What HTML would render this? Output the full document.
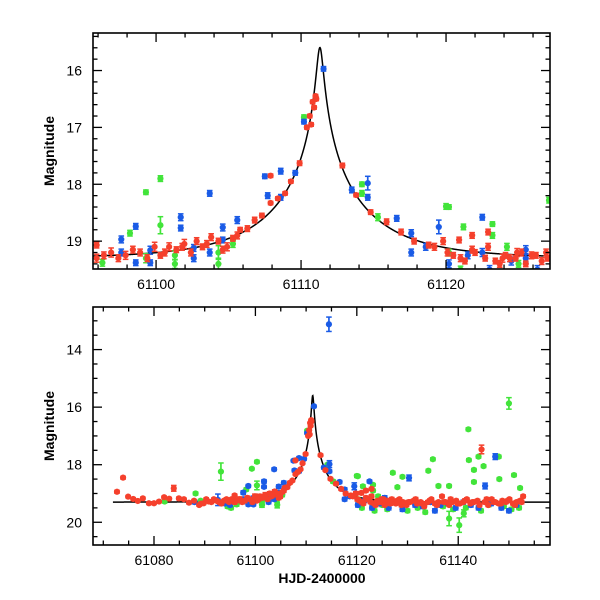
<!DOCTYPE html>
<html><head><meta charset="utf-8"><style>
html,body{margin:0;padding:0;background:#fff;}
svg{display:block;font-family:"Liberation Sans",sans-serif;}
</style></head><body>
<svg id="chart" width="600" height="600" viewBox="0 0 600 600" xmlns="http://www.w3.org/2000/svg">
<defs>
<clipPath id="clipTop"><rect x="93" y="33" width="457" height="236"/></clipPath>
<clipPath id="clipBot"><rect x="93" y="307" width="457" height="238"/></clipPath>
</defs>
<g id="top"></g>
<g id="bot"></g>
<text x="0" y="0" transform="translate(54,151) rotate(-90)" text-anchor="middle" font-size="14" font-weight="bold">Magnitude</text>
<text x="0" y="0" transform="translate(54,426) rotate(-90)" text-anchor="middle" font-size="14" font-weight="bold">Magnitude</text>
<text x="322" y="583" text-anchor="middle" font-size="14" font-weight="bold">HJD-2400000</text>
</svg>
<script>
// ---- data ----
const redT = [61072.7,61073.9,61074.9,61075.9,61076.8,61077.8,61079.0,61080.0,61081.0,61082.0,61083.0,61083.9,61084.9,61085.9,61086.9,61087.9,61088.9,61089.8,61090.8,61091.8,61092.8,61093.8,61094.8,61095.3,
61095.9,61095.9,61096.9,61097.9,61098.9,61099.9,61100.3,61100.9,61101.4,61101.95,61102.8,61103.2,61103.8,61104.3,61104.9,61105.3,61105.8,61106.3,61106.8,61107.3,61107.9,61107.9,61108.4,61108.9,61109.3,61109.9,
61110.4,61110.6,61110.7,61110.8,61110.9,61111.0,61111.05,
61112.85,61113.8,61114.8,61115.9,61116.9,61117.8,61118.8,61119.8,61120.9,61121.8,61121.8,61122.9,61122.9,61123.9,61124.9,61125.9,61126.9,
61120.5,61121.3,61122.0,61122.7,61123.4,61124.1,61124.8,61125.5,61126.2,61127.0,61127.7,61128.4,61129.1,61129.8,61130.5,61131.2,61131.9,61132.6,61133.3,61134.0,61134.7,61135.4,61136.1,61136.8,61137.5,61138.2,61138.9,61139.6,61140.3,61141.0,61141.7,61142.4,61143.1,61143.8,61144.6,61145.2,61145.9,61146.6,61147.3,61148.0,61148.7,61149.4,61150.1,61150.8,61151.5,61152.2,61152.8,
61089.3,61090.3,61091.3,61092.3,61093.3,61094.3,61096.4,61097.4,61098.4,61099.4,61100.6,61101.8,61102.4,61103.5,61104.6,61105.6,
61119.2,61120.1,61121.0,61123.7,61124.4,61125.2,61126.6,61128.0,61128.8,61130.2,61131.6,61132.9,61134.4,61135.8,61137.2,61138.5,61139.9,61141.3,61142.8,61144.2,61145.6,61147.0,61148.4,61149.8,61151.2,61152.5];
const redM = [18.94,18.45,19.11,19.19,19.26,19.17,19.34,19.34,19.28,19.13,19.18,18.82,19.17,19.2,19.32,19.25,19.4,19.34,19.28,19.2,19.3,19.25,19.3,19.2,
19.07,19.30,19.2,19.25,19.2,19.1,19.25,19.1,19.15,19.05,19.0,19.1,18.93,19.0,19.1,18.95,18.8,18.78,18.63,18.55,17.85,18.33,18.25,18.16,17.95,17.63,
17.0,16.8,16.95,16.55,16.65,16.45,16.5,
17.67,18.19,18.49,18.66,18.84,19.0,19.07,19.0,18.98,18.9,19.15,18.84,19.1,19.3,19.2,19.25,19.2,
19.25,19.35,19.2,19.3,19.35,19.25,19.3,19.4,19.25,19.3,19.35,19.2,19.3,19.4,19.3,19.25,19.35,19.3,19.45,19.3,19.2,19.35,19.3,19.1,19.3,19.4,19.3,19.25,19.35,19.3,19.2,19.35,19.3,19.25,17.47,19.3,19.4,19.2,19.3,19.35,19.25,19.3,19.2,19.35,19.3,19.25,19.1,
19.35,19.2,19.3,19.25,19.35,19.2,19.25,19.3,19.15,19.3,19.2,19.1,19.2,19.05,19.15,18.9,
19.1,19.2,19.3,19.4,19.3,19.2,19.35,19.25,19.4,19.3,19.2,19.35,19.25,19.4,19.3,19.2,19.35,19.25,19.3,19.4,19.2,19.3,19.35,19.25,19.4,19.3];
const redE = [0.05,0.05,0.04,0.04,0.04,0.04,0.04,0.04,0.04,0.04,0.04,0.1,0.04,0.04,0.04,0.04,0.04,0.04,0.04,0.04,0.04,0.04,0.04,0.04,
0.05,0.07,0.08,0.07,0.06,0.08,0.05,0.07,0.05,0.08,0.06,0.05,0.06,0.05,0.07,0.05,0.04,0.05,0.05,0.04,0.03,0.03,0.03,0.03,0.03,0.04,
0.03,0.03,0.03,0.03,0.03,0.03,0.03,
0.04,0.03,0.04,0.05,0.05,0.05,0.05,0.06,0.05,0.05,0.06,0.05,0.06,0.07,0.07,0.06,0.06,
0.05,0.05,0.05,0.05,0.05,0.05,0.05,0.05,0.05,0.05,0.05,0.05,0.05,0.05,0.05,0.05,0.05,0.05,0.05,0.05,0.05,0.05,0.05,0.05,0.05,0.05,0.05,0.05,0.05,0.05,0.05,0.05,0.05,0.05,0.15,0.05,0.05,0.05,0.05,0.05,0.05,0.05,0.05,0.05,0.05,0.05,0.05,
0.05,0.05,0.05,0.05,0.05,0.05,0.06,0.06,0.06,0.06,0.06,0.06,0.06,0.06,0.06,0.06,
0.06,0.06,0.06,0.06,0.06,0.06,0.06,0.06,0.06,0.06,0.06,0.06,0.06,0.06,0.06,0.06,0.06,0.06,0.06,0.06,0.06,0.06,0.06,0.06,0.06,0.06];
const blueT = [61088.0,61092.6,61094.0,61095.0,
61097.6,61097.6,61098.6,61098.6,61099.6,61099.6,61101.7,61101.7,61102.6,61102.6,61103.7,61103.7,61104.6,61104.6,61105.6,61107.5,61107.7,61108.6,61108.6,61109.6,61110.2,61111.55,
61113.5,61114.6,61114.6,61116.6,61117.6,61117.6,61118.6,61119.5,61121.5,61122.5,61122.5,61125.5,61125.5,61114.5,
61120.2,61123.0,61124.5,61126.3,61127.5,61129.0,61130.3,61131.5,61133.0,61134.5,61135.4,61136.5,61138.0,61139.5,61141.0,61142.5,61144.0,61145.3,61146.5,61147.3,61148.5,61150.0,61151.5];
const blueM = [19.3,19.22,19.35,19.4,
18.97,19.2,18.74,19.38,19.16,19.38,18.58,18.77,19.12,19.3,18.16,19.2,18.76,18.98,18.63,17.86,18.2,17.77,18.23,17.8,16.9,15.97,
18.1,17.98,18.23,18.6,18.86,19.2,19.1,18.75,19.25,18.58,19.2,19.15,19.3,13.12,
19.4,19.5,19.35,19.5,19.3,19.55,18.46,19.4,19.45,19.3,19.6,19.4,19.35,19.5,19.3,19.4,19.5,18.74,19.35,17.72,19.5,19.6,19.4];
const blueE = [0.06,0.2,0.06,0.06,
0.06,0.06,0.05,0.05,0.07,0.05,0.06,0.05,0.06,0.06,0.05,0.06,0.06,0.05,0.06,0.04,0.05,0.05,0.05,0.04,0.04,0.04,
0.05,0.12,0.05,0.05,0.06,0.06,0.06,0.12,0.06,0.05,0.07,0.07,0.07,0.25,
0.07,0.07,0.07,0.07,0.07,0.07,0.1,0.07,0.07,0.07,0.07,0.07,0.07,0.07,0.07,0.07,0.07,0.1,0.07,0.1,0.07,0.07,0.07];
const greenT = [61082.1,61088.2,61089.2,61093.2,61094.5,61095.2,
61096.3,61098.2,61099.3,61099.3,61100.3,61100.3,61101.3,61101.3,61104.3,61104.3,61105.3,61105.3,61110.2,
61114.2,61114.2,61115.3,61120.2,61120.2,61121.2,61123.2,61123.2,61124.2,
61120.0,61127.1,61129.0,61128.0,61134.1,61135.0,61136.1,61138.2,61141.1,61138.2,61140.2,61142.0,61142.1,61143.1,61143.1,61144.0,61145.0,61148.0,61148.1,61150.0,61151.0,61152.2,
61121.0,61123.5,61125.0,61126.0,61130.0,61132.0,61133.5,61137.0,61139.0,61141.5,61144.5,61146.0,61149.0,61150.5,61152.0];
const greenM = [19.28,19.0,19.25,18.24,19.45,19.5,
19.38,18.86,18.14,19.3,17.9,18.72,19.25,19.4,19.2,19.4,18.98,19.05,16.82,
18.0,18.16,18.58,18.4,19.2,18.75,18.7,18.9,19.1,
18.39,18.28,18.42,18.78,18.21,17.81,18.74,18.74,19.69,19.87,20.1,16.77,17.84,18.18,18.6,17.72,18.05,17.72,18.5,15.87,18.36,18.81,
19.5,19.6,19.4,19.55,19.6,19.5,19.65,19.45,19.55,19.5,19.6,19.4,19.45,19.55,19.5];
const greenE = [0.05,0.05,0.05,0.3,0.06,0.06,
0.06,0.05,0.04,0.08,0.05,0.15,0.08,0.08,0.12,0.1,0.06,0.06,0.04,
0.04,0.05,0.06,0.04,0.06,0.05,0.04,0.05,0.06,
0.05,0.05,0.05,0.05,0.05,0.05,0.05,0.05,0.12,0.25,0.25,0.05,0.05,0.05,0.05,0.05,0.05,0.05,0.05,0.2,0.05,0.05,
0.06,0.06,0.06,0.06,0.06,0.06,0.06,0.06,0.06,0.06,0.06,0.06,0.06,0.06,0.06];
const topXTicks = [61100,61110,61120];
const topYTicks = [16,17,18,19];
const botXTicks = [61080,61100,61120,61140];
const botYTicks = [14,16,18,20];
// model parameters
const T0 = 61111.3, U0 = 0.033, TE = 6.6, BASE = 19.3;

const NS = "http://www.w3.org/2000/svg";
function mk(tag, attrs, parent){ const e=document.createElementNS(NS,tag); for(const k in attrs) e.setAttribute(k,attrs[k]); parent.appendChild(e); return e; }

const panels = [
 {g:document.getElementById('top'), clip:'clipTop', x0:93,x1:550,y0:33,y1:269, t0:61095.65, t1:61127.17, m0:15.34, m1:19.49,
  xt:topXTicks, yt:topYTicks, xMinor:2, yMinor:0.2, name:'top'},
 {g:document.getElementById('bot'), clip:'clipBot', x0:93,x1:550,y0:307,y1:545, t0:61067.97, t1:61158.1, m0:12.52, m1:20.79,
  xt:botXTicks, yt:botYTicks, xMinor:5, yMinor:0.5, name:'bottom'}
];
const colors = {red:'#f5402c', blue:'#1a5be6', green:'#42e43a'};
const series = [
 {name:'green', t:greenT, m:greenM, e:greenE},
 {name:'blue', t:blueT, m:blueM, e:blueE},
 {name:'red', t:redT, m:redM, e:redE}
];
function modelMag(t){
  const u = Math.sqrt(U0*U0 + Math.pow((t-T0)/TE,2));
  const A = (u*u+2)/(u*Math.sqrt(u*u+4));
  return BASE - 2.5*Math.log10(A);
}
panels.forEach(p=>{
  const X = t => p.x0 + (t-p.t0)/(p.t1-p.t0)*(p.x1-p.x0);
  const Y = m => p.y0 + (m-p.m0)/(p.m1-p.m0)*(p.y1-p.y0);
  const data = mk('g',{'clip-path':'url(#'+p.clip+')'},p.g);
  
  
  let d=''; const ta = Math.max(p.t0, 61071.9);
  for(let i=0;i<=1500;i++){ const t=ta+(p.t1-ta)*i/1500; d+=(i?'L':'M')+X(t).toFixed(2)+' '+Y(modelMag(t)).toFixed(2); }
  const ml = mk('path',{d:d,fill:'none',stroke:'#000','stroke-width':1.5},data);
  
  
  series.forEach(s=>{
    const sg = mk('g',{fill:colors[s.name],stroke:colors[s.name]},data);
    
    
    for(let i=0;i<s.t.length;i++){
      const cx=X(s.t[i]), cy=Y(s.m[i]), ya=Y(s.m[i]-s.e[i]), yb=Y(s.m[i]+s.e[i]);
      mk('line',{x1:cx,x2:cx,y1:ya,y2:yb,'stroke-width':1.7},sg);
      mk('line',{x1:cx-2.8,x2:cx+2.8,y1:ya,y2:ya,'stroke-width':1.5},sg);
      mk('line',{x1:cx-2.8,x2:cx+2.8,y1:yb,y2:yb,'stroke-width':1.5},sg);
      const c = mk('circle',{cx:cx,cy:cy,r:3.1,stroke:'none'},sg);
      
      
    }
  });
  const fr = mk('rect',{x:p.x0,y:p.y0,width:p.x1-p.x0,height:p.y1-p.y0,fill:'none',stroke:'#000','stroke-width':1.6},p.g);
  
  
  const tk = mk('g',{stroke:'#000','stroke-width':1.3},p.g);
  
  
  const xs = Math.ceil(p.t0/p.xMinor)*p.xMinor;
  for(let t=xs;t<=p.t1;t+=p.xMinor){
    const major = p.xt.some(v=>Math.abs(v-t)<1e-6) || Math.abs(((t%(p.xMinor*(p.name==='top'?5:4)))))<1e-6;
    const L = major?9:4.5, x=X(t);
    mk('line',{x1:x,x2:x,y1:p.y1,y2:p.y1-L},tk);
    mk('line',{x1:x,x2:x,y1:p.y0,y2:p.y0+L},tk);
  }
  const ys = Math.ceil(p.m0/p.yMinor-1e-9)*p.yMinor;
  for(let m=ys;m<=p.m1+1e-9;m+=p.yMinor){
    const r = Math.round(m*100)/100;
    const major = p.name==='top' ? Math.abs(r-Math.round(r))<1e-6 : (Math.abs(r-Math.round(r))<1e-6 && Math.round(r)%2===0);
    const L = major?9:4.5, y=Y(r);
    mk('line',{x1:p.x0,x2:p.x0+L,y1:y,y2:y},tk);
    mk('line',{x1:p.x1,x2:p.x1-L,y1:y,y2:y},tk);
  }
  p.xt.forEach(v=>{
    const t = mk('text',{x:X(v),y:p.y1+20,'text-anchor':'middle','font-size':14},p.g);
    t.textContent = v;
    
    
  });
  p.yt.forEach(v=>{
    const t = mk('text',{x:p.x0-11,y:Y(v)+5,'text-anchor':'end','font-size':14},p.g);
    t.textContent = v;
    
    
  });
});
</script>
</body></html>
